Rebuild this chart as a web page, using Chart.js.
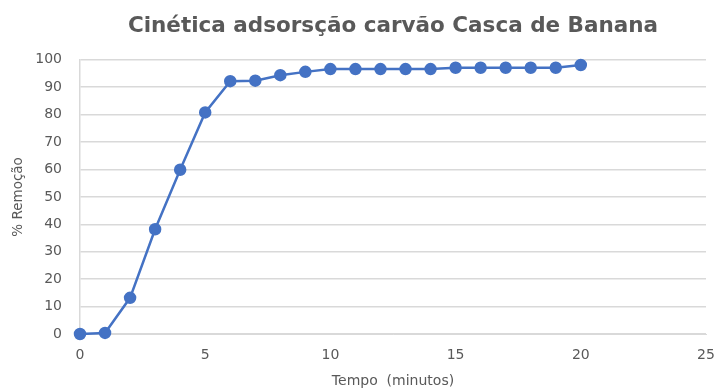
<!DOCTYPE html>
<html>
<head>
<meta charset="utf-8">
<script src="https://cdn.jsdelivr.net/npm/chart.js@4/dist/chart.umd.min.js"></script>
<style>
  html, body { margin: 0; padding: 0; background: #fff; }
  #wrap { width: 719px; height: 390px; position: relative; }
</style>
</head>
<body>
<div id="wrap"><canvas id="c" width="719" height="390"></canvas></div>
<script>
const chartTitle = "Cinética adsorsção carvão Casca de Banana";
const xAxisTitle = "Tempo  (minutos)";
const yAxisTitle = "% Remoção";
const tempo = [0, 1, 2, 3, 4, 5, 6, 7, 8, 9, 10, 11, 12, 13, 14, 15, 16, 17, 18, 19, 20];
const remocao = [0, 0.4, 13.2, 38.2, 59.9, 80.8, 92.2, 92.4, 94.4, 95.6, 96.6, 96.6, 96.6, 96.6, 96.6, 97.1, 97.1, 97.1, 97.1, 97.1, 98.1];

const points = tempo.map((t, i) => ({ x: t, y: remocao[i] }));
const gray = '#595959';
const fam = '"DejaVu Sans", "Liberation Sans", Arial, sans-serif';

new Chart(document.getElementById('c'), {
  type: 'scatter',
  data: {
    datasets: [{
      data: points,
      showLine: true,
      borderColor: '#4472C4',
      backgroundColor: '#4472C4',
      borderWidth: 2.5,
      pointRadius: 5,
      pointHoverRadius: 5,
      tension: 0,
      clip: false
    }]
  },
  options: {
    responsive: false,
    animation: false,
    layout: { padding: { left: 0, right: 13, top: 0, bottom: 0 } },
    plugins: {
      legend: { display: false },
      tooltip: { enabled: false },
      title: {
        display: true,
        fullSize: false,
        text: chartTitle,
        color: gray,
        font: { family: fam, size: 21.5, weight: 'bold' },
        padding: { top: 14, bottom: 20 }
      }
    },
    scales: {
      x: {
        type: 'linear',
        min: 0, max: 25,
        ticks: { stepSize: 5, color: gray, font: { family: fam, size: 14 }, padding: 13, maxRotation: 0 },
        grid: { display: false, drawTicks: false },
        border: { display: true, color: '#d9d9d9', width: 1 },
        title: { display: true, text: xAxisTitle, color: gray, font: { family: fam, size: 14 }, padding: { top: 0, bottom: 0 } },
        afterFit: (s) => { s.height = 56; s.paddingRight = 0; s.paddingLeft = 0; }
      },
      y: {
        min: 0, max: 100,
        ticks: { stepSize: 10, color: gray, font: { family: fam, size: 14 }, padding: 18 },
        grid: { color: '#d9d9d9', lineWidth: 1.5, drawTicks: false },
        border: { display: true, color: '#d9d9d9', width: 1.5 },
        title: { display: true, text: yAxisTitle, color: gray, font: { family: fam, size: 13.5 }, padding: { top: 10, bottom: 0 } },
        afterFit: (s) => { s.width = 80; }
      }
    }
  }
});
</script>
</body>
</html>
